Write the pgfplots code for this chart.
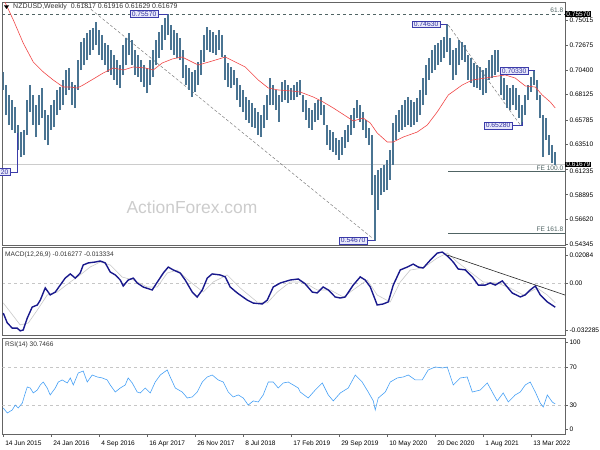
\documentclass[border=0pt]{standalone}
\usepackage{fontspec}
\setmainfont{Liberation Sans}
\usepackage{pgfplots}
\usepackage{pgfplotstable}
\pgfplotsset{compat=1.18}

\definecolor{barcol}{RGB}{74,116,146}
\definecolor{macol}{RGB}{240,70,70}
\definecolor{lblfill}{RGB}{232,232,250}
\definecolor{lbldraw}{RGB}{60,60,170}
\definecolor{lbltext}{RGB}{50,50,160}
\definecolor{fibcol}{RGB}{80,100,100}
\definecolor{macdcol}{RGB}{25,25,140}
\definecolor{sigcol}{RGB}{200,200,200}
\definecolor{rsicol}{RGB}{70,160,245}
\definecolor{framecol}{RGB}{100,100,100}

\pgfplotstableread{
w lo hi
0 0.6856 0.7022
2 0.6625 0.6902
4 0.6533 0.6810
6 0.6487 0.6763
8 0.6459 0.6699
10 0.6302 0.6533
12 0.6238 0.6468
14 0.6256 0.6487
16 0.6441 0.6763
18 0.6653 0.6902
20 0.6533 0.6810
22 0.6422 0.6717
24 0.6533 0.6810
26 0.6597 0.6874
28 0.6395 0.6671
30 0.6348 0.6625
32 0.6487 0.6717
34 0.6514 0.6763
36 0.6625 0.6856
38 0.6671 0.6883
40 0.6717 0.6948
42 0.6810 0.7040
44 0.6856 0.7059
46 0.6717 0.6930
48 0.6690 0.6902
50 0.6856 0.7132
52 0.7040 0.7299
54 0.7086 0.7335
56 0.7132 0.7382
58 0.7179 0.7409
60 0.7225 0.7428
62 0.7271 0.7483
64 0.7179 0.7409
66 0.7132 0.7363
68 0.7086 0.7289
70 0.7022 0.7271
72 0.6994 0.7225
74 0.6948 0.7179
76 0.6902 0.7132
78 0.6874 0.7086
80 0.6994 0.7271
82 0.7086 0.7335
84 0.7179 0.7382
86 0.7086 0.7317
88 0.6994 0.7225
90 0.6976 0.7179
92 0.6930 0.7132
94 0.6883 0.7086
96 0.6828 0.7059
98 0.6902 0.7132
100 0.6976 0.7225
102 0.7086 0.7317
104 0.7151 0.7391
106 0.7225 0.7455
108 0.7317 0.7520
110 0.7363 0.7557
112 0.7225 0.7455
114 0.7179 0.7409
116 0.7151 0.7382
118 0.7132 0.7335
120 0.6966 0.7225
122 0.6902 0.7086
124 0.6856 0.7059
126 0.6791 0.7022
128 0.6837 0.7040
130 0.6902 0.7114
132 0.6994 0.7225
134 0.7114 0.7363
136 0.7225 0.7437
138 0.7206 0.7409
140 0.7197 0.7391
142 0.7179 0.7363
144 0.7225 0.7409
146 0.7160 0.7363
148 0.6948 0.7179
150 0.6883 0.7105
152 0.6874 0.7068
154 0.6902 0.7040
156 0.6763 0.6966
158 0.6699 0.6902
160 0.6653 0.6856
162 0.6579 0.6791
164 0.6551 0.6763
166 0.6514 0.6736
168 0.6505 0.6690
170 0.6441 0.6653
172 0.6422 0.6625
174 0.6505 0.6717
176 0.6579 0.6810
178 0.6717 0.6966
180 0.6717 0.6902
182 0.6671 0.6856
184 0.6561 0.6810
186 0.6745 0.6930
188 0.6763 0.6948
190 0.6736 0.6902
192 0.6763 0.6874
194 0.6763 0.6902
196 0.6791 0.6930
198 0.6810 0.6948
200 0.6653 0.6810
202 0.6579 0.6763
204 0.6505 0.6690
206 0.6487 0.6671
208 0.6561 0.6736
210 0.6579 0.6763
212 0.6625 0.6791
214 0.6533 0.6717
216 0.6348 0.6533
218 0.6302 0.6487
220 0.6284 0.6468
222 0.6256 0.6413
224 0.6210 0.6395
226 0.6256 0.6422
228 0.6321 0.6487
230 0.6376 0.6533
232 0.6441 0.6625
234 0.6505 0.6690
236 0.6597 0.6763
238 0.6561 0.6717
240 0.6487 0.6653
242 0.6413 0.6579
244 0.6348 0.6505
246 0.5887 0.6441
248 0.5467 0.6072
250 0.5749 0.6118
252 0.5887 0.6137
254 0.5915 0.6164
256 0.5933 0.6210
258 0.6026 0.6302
260 0.6164 0.6551
262 0.6395 0.6625
264 0.6468 0.6671
266 0.6487 0.6717
268 0.6514 0.6763
270 0.6533 0.6791
272 0.6514 0.6763
274 0.6533 0.6745
276 0.6561 0.6782
278 0.6625 0.6856
280 0.6717 0.6966
282 0.6810 0.7086
284 0.6948 0.7151
286 0.7013 0.7225
288 0.7040 0.7271
290 0.7086 0.7289
292 0.7114 0.7317
294 0.7151 0.7345
296 0.7206 0.7463
298 0.7086 0.7335
300 0.6948 0.7225
302 0.6994 0.7243
304 0.7086 0.7317
306 0.7132 0.7299
308 0.7114 0.7271
310 0.6948 0.7179
312 0.6920 0.7151
314 0.6883 0.7105
316 0.6874 0.7086
318 0.6856 0.7068
320 0.6810 0.7040
322 0.6828 0.7059
324 0.6948 0.7132
326 0.6966 0.7179
328 0.6994 0.7225
330 0.7022 0.7225
332 0.6810 0.7040
334 0.6763 0.6966
336 0.6690 0.6902
338 0.6671 0.6874
340 0.6717 0.6902
342 0.6671 0.6874
344 0.6597 0.6810
346 0.6528 0.6717
348 0.6625 0.6810
350 0.6763 0.6902
352 0.6837 0.6976
354 0.6902 0.7033
356 0.6763 0.6948
358 0.6597 0.6810
360 0.6238 0.6625
362 0.6395 0.6597
364 0.6256 0.6441
366 0.6182 0.6348
368 0.6163 0.6284
}\price

\pgfplotstableread{
w v
0 0.7700
6.7 0.7502
13.3 0.7289
20 0.7114
26.7 0.7022
33.3 0.6948
40 0.6883
44.7 0.6883
49.3 0.6874
53.3 0.6902
60 0.6957
66.7 0.7013
73.3 0.7059
80 0.7040
86.7 0.7068
94.7 0.7059
100 0.7040
106 0.7105
112.7 0.7142
119.3 0.7160
123.3 0.7132
130 0.7086
139.3 0.7123
148 0.7160
154.7 0.7114
161.3 0.7068
170 0.6948
176.7 0.6874
183.3 0.6856
192.7 0.6846
198 0.6837
206.7 0.6791
213.3 0.6745
220 0.6690
229.3 0.6607
233.3 0.6570
240 0.6597
244.7 0.6551
249.3 0.6459
256 0.6376
260 0.6376
266.7 0.6422
276 0.6468
282.7 0.6533
289.3 0.6653
296.7 0.6810
306 0.6902
312.7 0.6948
321.3 0.6966
330 0.6985
334.7 0.6994
341.3 0.6966
348 0.6893
354.7 0.6883
359.3 0.6810
364.7 0.6745
368 0.6690
}\ma

\pgfplotstableread{
w m
0 -0.0202
2.7 -0.0269
6 -0.0303
9.3 -0.0303
11.3 -0.0322
13.3 -0.0316
16 -0.0236
19.3 -0.0162
22.7 -0.0148
24.7 -0.0115
28 -0.0033
31.3 -0.0080
34.7 -0.0061
38 -0.0014
41.3 0.0033
44.7 0.0061
48 0.0033
51.3 0.0067
53.3 0.0121
56.7 0.0135
61.3 0.0141
64.7 0.0148
68 0.0135
71.3 0.0074
74.7 0.0054
78 0.0020
80 -0.0020
83.3 0.0020
86.7 0.0033
89.3 0.0
93.3 -0.0027
99.3 -0.0047
102.7 0.0006
106.7 0.0067
110 0.0107
113.3 0.0088
118 0.0067
121.3 0.0020
126 -0.0061
129.3 -0.0094
132.7 -0.0047
136 0.0033
139.3 0.0061
144.7 0.0054
148 0.0041
151.3 -0.0027
156 -0.0067
162.7 -0.0115
166.7 -0.0135
172.7 -0.0141
176 -0.0115
180 -0.0027
184.7 0.0
191.3 0.0020
196.7 0.0027
201.3 -0.0006
206 -0.0061
209.3 -0.0067
213.3 -0.0027
216.7 -0.0047
221.3 -0.0094
224.7 -0.0101
228 -0.0094
233.3 -0.0014
238 0.0041
241.3 0.0020
244.7 -0.0027
249.3 -0.0148
253.3 -0.0141
256.7 -0.0127
260 -0.0014
264.7 0.0088
269.3 0.0107
273.3 0.0127
276.7 0.0107
280 0.0101
284.7 0.0154
289.3 0.0201
292.7 0.0208
296 0.0182
300 0.0141
303.3 0.0094
308 0.0088
312.7 0.0041
316.7 -0.0014
321.3 -0.0014
324.7 0.0
328 -0.0014
332.7 0.0014
336 -0.0027
339.3 -0.0067
344.7 -0.0094
348 -0.0080
351.3 -0.0047
354.7 -0.0020
358 -0.0080
362.7 -0.0127
368 -0.0163
}\macd

\pgfplotstableread{
w s
0 -0.0134
4.7 -0.0195
11.3 -0.0282
16.7 -0.0269
22.7 -0.0182
29.3 -0.0081
36 -0.0061
44.7 0.0007
51.3 0.0054
58 0.0108
64.7 0.0141
71.3 0.0121
79.3 0.0040
86.7 0.0020
96 -0.0027
102.7 -0.0027
109.3 0.0067
116 0.0087
124.7 0.0007
133.3 -0.0061
140 0.0007
149.3 0.0054
158 -0.0034
169.3 -0.0128
176 -0.0134
182.7 -0.0061
191.3 0.0007
200 0.0007
209.3 -0.0047
218 -0.0047
226.7 -0.0094
236 -0.0027
242.7 0.0020
249.3 -0.0081
258 -0.0128
264.7 0.0007
271.3 0.0087
280 0.0101
289.3 0.0168
296 0.0202
302.7 0.0141
311.3 0.0074
320 0.0007
329.3 0.0
338 -0.0034
346.7 -0.0081
356 -0.0034
362.7 -0.0081
368 -0.0133
}\signal

\pgfplotstableread{
w r
0 27.6
2.7 22.3
6 25.5
8 30.7
10 27.6
12.7 32.8
14.7 43.4
16 49.7
18 48.6
20 43.4
22.7 46.5
24.7 51.8
26.7 54.9
29.3 48.6
31.3 41.3
34.7 48.6
36.7 54.9
39.3 57.1
42.7 53.9
44.7 59.2
46.7 51.8
50 64.4
53.3 66.5
56 54.9
59.3 62.3
62.7 60.2
66 59.2
69.3 57.1
71.3 51.8
74.7 44.4
78 48.6
81.3 51.8
83.3 59.2
86 53.9
89.3 44.4
91.3 43.4
94.7 48.6
98 43.4
101.3 54.9
104.7 62.3
109.3 67.6
111.3 60.2
114.7 48.6
119.3 44.4
122.7 38.1
126 39.2
129.3 44.4
132.7 54.9
136 60.2
139.3 62.3
143.3 57.1
146.7 54.9
150 44.4
153.3 39.2
156.7 41.3
160 38.1
163.3 30.7
166.7 35.0
170 33.9
173.3 41.3
176.7 54.9
180 54.9
183.3 48.6
186.7 53.9
190 54.9
193.3 51.8
196.7 48.6
198 44.4
203.3 38.1
208 46.5
212.7 53.9
216.7 41.3
220 35.0
224.7 43.4
230 48.6
234.7 62.3
239.3 54.9
243.3 44.4
246.7 35.0
248 25.5
250 38.1
254.7 44.4
258 54.9
262.7 59.2
266.7 60.2
270 62.3
274.7 57.1
279.3 57.1
283.3 67.6
288 70.7
292.7 69.7
296 70.7
300 51.8
304.7 59.2
309.3 60.2
312.7 44.4
318 46.5
322.7 53.9
326 44.4
329.3 35.0
333.3 43.4
336.7 33.9
341.3 41.3
344.7 44.4
348 51.8
351.3 54.9
354.7 44.4
358 32.8
360 28.6
362.7 41.3
366 33.9
368 31.8
}\rsi

\pgfplotsset{
  panel/.style={
    scale only axis, width=562.5bp, xmin=-0.5, xmax=374.5,
    anchor=north west, clip mode=individual,
    scaled ticks=false,
    axis line style={framecol, line width=0.8bp},
    ytick pos=right, yticklabel pos=right,
    tick align=outside, major tick length=2.5bp,
    tick style={framecol, line width=0.5bp},
    ticklabel style={font=\fontsize{6.6}{7}\selectfont},
    yticklabel style={anchor=west, xshift=-1.5bp},
  },
}
\tikzset{
  lblbox/.style={draw=lbldraw, fill=lblfill, text=lbltext, inner xsep=1.6bp, inner ysep=0.9bp,
    font=\fontsize{6.8}{7}\selectfont, line width=0.6bp},
  pricebox/.style={fill=black, text=white, inner xsep=1.2bp, inner ysep=0.4bp,
    font=\fontsize{6.6}{7}\selectfont, anchor=west},
}

\begin{document}
\begin{tikzpicture}
\path[use as bounding box] (0,0) rectangle (600bp,450bp);

% ---------------- main price panel ----------------
\begin{axis}[panel, at={(2.5bp,447.5bp)}, height=243bp,
  ymin=0.54213, ymax=0.76629, xtick=\empty,
  ytick={0.54345,0.56620,0.58895,0.61235,0.63510,0.65785,0.68125,0.70400,0.72675,0.75015},
  yticklabels={0.54345,0.56620,0.58895,\smash{\raisebox{-4.6bp}{0.61235}},0.63510,0.65785,0.68125,0.70400,0.72675,0.75015}]
  \node[text=gray!40, font=\fontsize{17.5}{20}\selectfont] at (axis description cs:0.3369,0.158) {ActionForex.com};
  \addplot[gray!40, line width=0.6bp] coordinates {(-0.5,0.61679) (374.5,0.61679)};
  \addplot[fibcol, dashed, line width=0.9bp] coordinates {(-0.5,0.7557) (374.5,0.7557)};
  \addplot[fibcol, line width=0.7bp] coordinates {(296.7,0.6104) (374.5,0.6104)};
  \addplot[fibcol, line width=0.7bp] coordinates {(296.7,0.5537) (374.5,0.5537)};
  \addplot[gray, densely dashed, line width=0.5bp] coordinates {(53.3,0.7658) (246,0.5490)};
  \addplot[gray, densely dashed, line width=0.5bp] coordinates {(296.7,0.7455) (344.7,0.6533)};
  \addplot[barcol, line width=1.9bp, mark=none,
    quiver={u=0, v=\thisrow{hi}-\thisrow{lo}}]
    table[x=w, y=lo] {\price};
  \addplot[macol, line width=0.6bp] table[x=w, y=v] {\ma};
  % labels
  \draw[lbldraw, line width=0.6bp] (axis cs:103.3,0.7557) -- (axis cs:110,0.7557);
  \node[lblbox, anchor=east] at (axis cs:103.3,0.7557) {0.75570};
  \draw[lbldraw, line width=0.6bp] (axis cs:291.3,0.7463) -- (axis cs:296,0.7463);
  \node[lblbox, anchor=east] at (axis cs:291.3,0.7463) {0.74630};
  \draw[lbldraw, line width=0.6bp] (axis cs:350,0.7033) -- (axis cs:354.5,0.7033);
  \node[lblbox, anchor=east] at (axis cs:350,0.7033) {0.70330};
  \draw[lbldraw, line width=0.6bp] (axis cs:339.3,0.6528) -- (axis cs:346,0.6528) -- (axis cs:346,0.6560);
  \node[lblbox, anchor=east] at (axis cs:339.3,0.6528) {0.65280};
  \draw[lbldraw, line width=0.6bp] (axis cs:242.7,0.5467) -- (axis cs:248,0.5467);
  \node[lblbox, anchor=east] at (axis cs:242.7,0.5467) {0.54670};
  \draw[lbldraw, line width=0.6bp] (axis cs:4.7,0.6099) -- (axis cs:9.3,0.6099) -- (axis cs:9.3,0.6459);
  \node[lblbox, anchor=east] at (axis cs:4.7,0.6099) {20};
  % level texts
  \node[text=fibcol, font=\fontsize{6.6}{7}\selectfont, anchor=south east, inner sep=0.8bp] at (axis cs:374,0.7557) {61.8};
  \node[text=fibcol, font=\fontsize{6.6}{7}\selectfont, anchor=south east, inner sep=0.8bp] at (axis cs:374,0.6104) {FE 100.0};
  \node[text=fibcol, font=\fontsize{6.6}{7}\selectfont, anchor=south east, inner sep=0.8bp] at (axis cs:374,0.5537) {FE 161.8};
  % title
  \fill[black] (axis description cs:0.00267,0.98765) -- (axis description cs:0.01156,0.98765)
     -- (axis description cs:0.00711,0.97325) -- cycle;
  \node[anchor=west, inner sep=0, font=\fontsize{7}{8}\selectfont, text=black!80] at (axis description cs:0.0187,0.9815)
    {NZDUSD,Weekly\ \ 0.61817 0.61916 0.61629 0.61679};
  % price boxes on the right
  \node[pricebox] at (axis cs:374.5,0.7557) {0.75570};
  \node[pricebox] at (axis cs:374.5,0.61679) {0.61679};
\end{axis}

% ---------------- MACD panel ----------------
\begin{axis}[panel, at={(2.5bp,202.5bp)}, height=87.5bp,
  ymin=-0.03497, ymax=0.02387, xtick=\empty,
  ytick={-0.0316,0,0.01883}, yticklabels={-0.032285,0.00,0.02084}]
  \addplot[gray!45, dashed, line width=0.4bp] coordinates {(-0.5,0) (374.5,0)};
  \addplot[sigcol, line width=0.6bp] table[x=w, y=s] {\signal};
  \addplot[macdcol, line width=1.4bp] table[x=w, y=m] {\macd};
  \addplot[black!85, line width=0.6bp] coordinates {(296,0.0188) (374.5,-0.0081)};
  \node[anchor=west, inner sep=0, font=\fontsize{6.6}{7}\selectfont, text=black!80] at (axis description cs:0.0044,0.914)
    {MACD(12,26,9) -0.016277 -0.013334};
\end{axis}

% ---------------- RSI panel ----------------
\begin{axis}[panel, at={(2.5bp,111.5bp)}, height=95.7bp,
  ymin=0, ymax=100.7,
  ytick={5.5,30,70,97}, yticklabels={0,30,70,100},
  xtick={0,32,64,96,128,160,192,224,256,288,320,352},
  xticklabels={14 Jun 2015,24 Jan 2016,4 Sep 2016,16 Apr 2017,26 Nov 2017,8 Jul 2018,17 Feb 2019,29 Sep 2019,10 May 2020,20 Dec 2020,1 Aug 2021,13 Mar 2022},
  xtick pos=left,
  xticklabel style={anchor=north west, xshift=-1.5bp, yshift=-0.5bp}]
  \addplot[gray!45, dashed, line width=0.4bp] coordinates {(-0.5,70) (374.5,70)};
  \addplot[gray!45, dashed, line width=0.4bp] coordinates {(-0.5,30) (374.5,30)};
  \addplot[rsicol, line width=0.6bp] table[x=w, y=r] {\rsi};
  \node[anchor=west, inner sep=0, font=\fontsize{6.6}{7}\selectfont, text=black!80] at (axis description cs:0.0044,0.932)
    {RSI(14) 30.7466};
\end{axis}
\end{tikzpicture}
\end{document}
